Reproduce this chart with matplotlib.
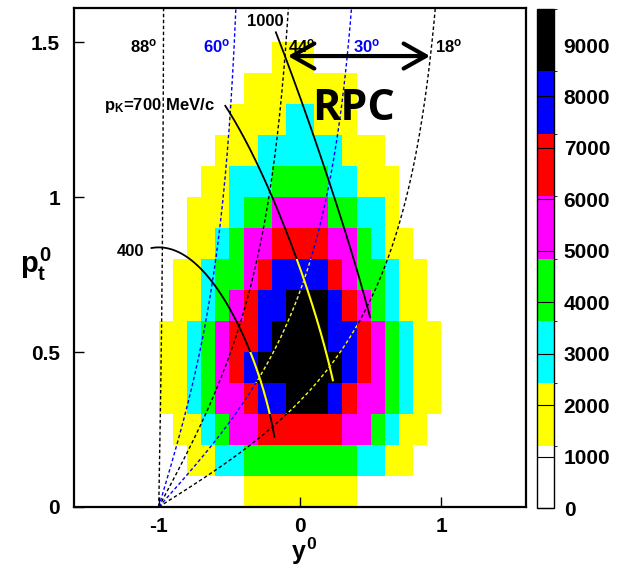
import numpy as np
import matplotlib
matplotlib.use('Agg')
import matplotlib.pyplot as plt
from matplotlib.colors import ListedColormap, BoundaryNorm
from matplotlib.cm import ScalarMappable
from matplotlib.path import Path
from matplotlib.transforms import Affine2D

plt.rcParams['font.family'] = ['Liberation Sans', 'DejaVu Sans']
plt.rcParams['mathtext.fontset'] = 'custom'
plt.rcParams['mathtext.rm'] = 'Liberation Sans:bold'
plt.rcParams['mathtext.it'] = 'Liberation Sans:bold'
plt.rcParams['mathtext.bf'] = 'Liberation Sans:bold'
plt.rcParams['axes.unicode_minus'] = False

# kaon kinematics (Ar+KCl 1.76A GeV)
m_k = 0.4937
y_cm = 0.858
bg_cm = np.sinh(y_cm)

# ----------------- histogram -----------------
y0_edges = np.round(np.arange(-1.0, 1.001, 0.1), 2)
pt0_edges = np.round(np.arange(0.0, 1.501, 0.1), 2)

# counts, one row per pt0 bin (bottom to top), y0 bins -1.0 .. 0.9
counts = [
    [0, 0, 0, 0, 0, 0, 1800, 1800, 1800, 1800, 1800, 1800, 1800, 1800, 0, 0, 0, 0, 0, 0],
    [0, 0, 1800, 1800, 3000, 3000, 4200, 4200, 4200, 4200, 4200, 4200, 4200, 4200, 3000, 3000, 1800, 1800, 0, 0],
    [0, 1800, 1800, 3000, 4200, 5500, 5500, 6700, 6700, 6700, 6700, 6700, 6700, 5500, 5500, 4200, 3000, 1800, 1800, 0],
    [1800, 1800, 3000, 4200, 5500, 5500, 6700, 7900, 7900, 9100, 9100, 9100, 7900, 6700, 5500, 5500, 4200, 3000, 1800, 1800],
    [1800, 1800, 3000, 4200, 5500, 6700, 7900, 9100, 9100, 9100, 9100, 9100, 9100, 7900, 6700, 5500, 4200, 3000, 1800, 1800],
    [1800, 1800, 3000, 4200, 5500, 6700, 6700, 7900, 9100, 9100, 9100, 9100, 7900, 7900, 6700, 5500, 4200, 3000, 1800, 1800],
    [0, 1800, 1800, 3000, 4200, 5500, 6700, 7900, 7900, 9100, 9100, 9100, 7900, 6700, 5500, 4200, 3000, 1800, 1800, 0],
    [0, 1800, 1800, 3000, 4200, 4200, 5500, 6700, 7900, 7900, 7900, 7900, 6700, 5500, 4200, 4200, 3000, 1800, 1800, 0],
    [0, 0, 1800, 1800, 3000, 4200, 5500, 5500, 6700, 6700, 6700, 6700, 5500, 5500, 4200, 3000, 1800, 1800, 0, 0],
    [0, 0, 1800, 1800, 1800, 3000, 4200, 4200, 5500, 5500, 5500, 5500, 4200, 4200, 3000, 3000, 1800, 0, 0, 0],
    [0, 0, 0, 1800, 1800, 3000, 3000, 3000, 4200, 4200, 4200, 4200, 3000, 3000, 1800, 1800, 1800, 0, 0, 0],
    [0, 0, 0, 0, 1800, 1800, 1800, 3000, 3000, 3000, 3000, 3000, 3000, 1800, 1800, 1800, 0, 0, 0, 0],
    [0, 0, 0, 0, 0, 1800, 1800, 1800, 1800, 3000, 3000, 1800, 1800, 1800, 0, 0, 0, 0, 0, 0],
    [0, 0, 0, 0, 0, 0, 1800, 1800, 1800, 1800, 1800, 1800, 1800, 1800, 0, 0, 0, 0, 0, 0],
    [0, 0, 0, 0, 0, 0, 0, 0, 1800, 1800, 1800, 0, 0, 0, 0, 0, 0, 0, 0, 0],
]

z_max = 9700
palette = ['white', '#ffff00', '#00ffff', '#00ff00', '#ff00ff', '#ff0000', '#0000ff', 'black']
cbar_ticks = [0, 1000, 2000, 3000, 4000, 5000, 6000, 7000, 8000, 9000]

# lab angle lines and kaon momentum lines
angles = [88, 60, 44, 30, 18]
angle_colors = ['black', 'blue', 'black', 'blue', 'black']
angle_label_x = [-1.01, -0.49, -0.085, 0.375, 0.955]
angle_label_ha = ['right', 'right', 'left', 'left', 'left']

p_lines = [0.4, 0.7, 1.0]          # GeV/c
theta_start = [94, 62, 47]
theta_end = [15.7, 16.2, 17.0]


def to_norm(p, theta):
    th = np.radians(theta)
    pt = p * np.sin(th)
    pz = p * np.cos(th)
    e = np.sqrt(p ** 2 + m_k ** 2)
    y = np.arctanh(pz / e)
    return y / y_cm - 1, pt / (m_k * bg_cm)


# ----------------- figure -----------------
fig = plt.figure(figsize=(6.17, 5.71), dpi=100)
ax = fig.add_axes([74 / 617, 1 - 507 / 571, 452 / 617, 499 / 571])
cax = fig.add_axes([537 / 617, 1 - 508 / 571, 17 / 617, 499 / 571])

levels = np.linspace(0, z_max, 9)
cmap = ListedColormap(palette)
norm = BoundaryNorm(levels, cmap.N)
z = np.ma.masked_equal(np.array(counts), 0)
ax.pcolormesh(y0_edges, pt0_edges, z, cmap=cmap, norm=norm, zorder=1)

# dark (blue/black) bins: lines there are drawn yellow
rects = []
for j, row in enumerate(counts):
    for i, c in enumerate(row):
        if c >= levels[6]:
            rects.append(Path.unit_rectangle().transformed(
                Affine2D().scale(0.1, 0.1).translate(y0_edges[i], pt0_edges[j])))
dark = Path.make_compound_path(*rects)

dash = (0, (2.5, 1.8))
p = np.linspace(1e-4, 4, 600)
for th, col in zip(angles, angle_colors):
    yy, pp = to_norm(p, th)
    ax.plot(yy, pp, color=col, lw=1.0, linestyle=dash, zorder=3)
    ln, = ax.plot(yy, pp, color='yellow', lw=1.0, linestyle=dash, zorder=4)
    ln.set_clip_path(dark, ax.transData)

for pk, t0, t1 in zip(p_lines, theta_start, theta_end):
    th = np.linspace(t0, t1, 300)
    yy, pp = to_norm(pk, th)
    ax.plot(yy, pp, color='black', lw=1.3, zorder=5)
    ln, = ax.plot(yy, pp, color='yellow', lw=1.5, zorder=6)
    ln.set_clip_path(dark, ax.transData)

# labels
for th, col, lx, ha in zip(angles, angle_colors, angle_label_x, angle_label_ha):
    ax.text(lx, 1.487, r'%d$^{o}$' % th, color=col, fontsize=12, fontweight='bold',
            ha=ha, va='center', zorder=7)
ax.text(-0.245, 1.565, '1000', fontsize=12, fontweight='bold', ha='center', va='center', zorder=7)
ax.text(-0.6, 1.297, r'p$_{K}$=700 MeV/c', fontsize=12, fontweight='bold', ha='right', va='center', zorder=7)
ax.text(-1.105, 0.823, '400', fontsize=12, fontweight='bold', ha='right', va='center', zorder=7)

ax.annotate('', xy=(-0.086, 1.455), xytext=(0.921, 1.455),
            arrowprops=dict(arrowstyle='<->,head_length=0.8,head_width=0.45', lw=3,
                            color='black', mutation_scale=20, shrinkA=0, shrinkB=0),
            zorder=8)
ax.text(0.379, 1.287, 'RPC', fontsize=31, fontweight='bold', family='Open Sans',
        ha='center', va='center', zorder=8)

ax.set_xlim(-1.6, 1.6)
ax.set_ylim(0, 1.61)
ax.set_xticks([-1, 0, 1])
ax.set_xticklabels(['-1', '0', '1'])
ax.set_yticks([0, 0.5, 1, 1.5])
ax.set_yticklabels(['0', '0.5', '1', '1.5'])
ax.tick_params(direction='in', length=7, width=1, labelsize=15)
ax.tick_params(axis='y', pad=10)
ax.tick_params(axis='x', pad=7)
for lab in ax.get_xticklabels() + ax.get_yticklabels():
    lab.set_fontweight('bold')
for s in ax.spines.values():
    s.set_linewidth(1.6)
    s.set_zorder(10)

fig.text(304 / 617, 1 - 536 / 571, r'$y^0$', fontsize=18, ha='center', va='top')
fig.text(36 / 617, 1 - 264 / 571, r'$p_t^0$', fontsize=21, ha='center', va='center')

# colour scale
sm = ScalarMappable(norm=norm, cmap=cmap)
cb = fig.colorbar(sm, cax=cax, boundaries=levels, ticks=cbar_ticks)
cb.outline.set_linewidth(1.0)
cax.tick_params(direction='in', length=12.3, width=0.8, labelsize=15, pad=7)
for lab in cax.get_yticklabels():
    lab.set_fontweight('bold')

fig.savefig('out.png', dpi=100)
